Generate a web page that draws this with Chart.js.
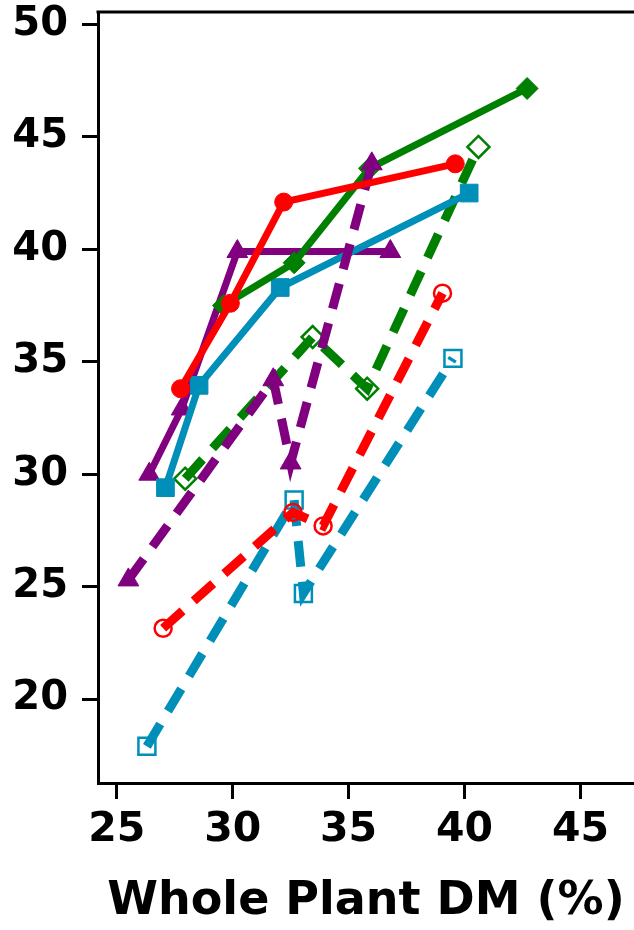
<!doctype html>
<html lang="en">

<head>
  <meta charset="utf-8">
  <title>Whole Plant DM</title>
  <script src="https://cdn.jsdelivr.net/npm/chart.js"></script>
  <style>
    html, body { margin: 0; padding: 0; background: #fff; overflow: hidden; }
    #wrap { width: 634px; height: 930px; }
  </style>
</head>

<body>
  <div id="wrap">
    <canvas id="dmChart" role="img" aria-label="Line chart against whole plant DM"></canvas>
  </div>

  <script>
    // === DATA ===

    const xTicks = [25, 30, 35, 40, 45];
    const yTicks = [20, 25, 30, 35, 40, 45, 50];

    // purple, triangles
    const purpleSolidX = [26.4, 27.8, 30.2, 36.8];
    const purpleSolidY = [30.0, 32.9, 39.9, 39.9];
    const purpleDashX = [25.5, 31.75, 32.5, 36.0];
    const purpleDashY = [25.3, 34.2, 30.5, 43.8];

    // red, circles
    const redSolidX = [27.75, 29.9, 32.2, 39.6];
    const redSolidY = [33.8, 37.6, 42.1, 43.8];
    const redDashX = [27.0, 32.6, 33.9, 39.05];
    const redDashY = [23.15, 28.3, 27.7, 38.05];

    // green, diamonds
    const greenSolidX = [29.6, 32.65, 35.9, 42.7];
    const greenSolidY = [37.5, 39.4, 43.6, 47.15];
    const greenDashX = [27.95, 33.45, 35.8, 40.6];
    const greenDashY = [29.8, 36.1, 33.8, 44.55];

    // blue, squares
    const blueSolidX = [27.1, 28.55, 32.05, 40.2];
    const blueSolidY = [29.4, 33.95, 38.3, 42.5];
    const blueDashX = [26.3, 32.65, 33.05, 39.5];
    const blueDashY = [17.9, 28.85, 24.7, 35.15];

    // === COLOURS ===
    const PURPLE = "#800080";
    const RED = "#ff0000";
    const GREEN = "#008000";
    const BLUE = "#008fb8";

    function pts(xs, ys) {
      return xs.map((x, i) => ({ x: x, y: ys[i] }));
    }

    // solid line, filled markers
    function solid(xs, ys, color, style, r) {
      return {
        data: pts(xs, ys),
        showLine: true,
        borderColor: color,
        backgroundColor: color,
        borderWidth: 7,
        pointStyle: style,
        pointRadius: r,
        pointBorderWidth: 1,
        pointBackgroundColor: color,
        pointBorderColor: color
      };
    }

    // dashed line, open (or filled) markers
    function dashed(xs, ys, color, style, r, filled) {
      return {
        data: pts(xs, ys),
        showLine: true,
        borderColor: color,
        backgroundColor: color,
        borderWidth: 9,
        borderDash: [26, 15],
        pointStyle: style,
        pointRadius: r,
        pointBorderWidth: filled ? 1 : 2.5,
        pointBackgroundColor: filled ? color : "rgba(0,0,0,0)",
        pointBorderColor: color
      };
    }

    // top frame line (no right frame in the picture)
    const topFrame = {
      id: "topFrame",
      afterDraw(chart) {
        const a = chart.chartArea;
        const ctx = chart.ctx;
        ctx.save();
        ctx.strokeStyle = "#000";
        ctx.lineWidth = 3;
        ctx.beginPath();
        ctx.moveTo(a.left - 1.5, a.top);
        ctx.lineTo(a.right, a.top);
        ctx.stroke();
        ctx.restore();
      }
    };

    const FONT = "'DejaVu Sans', sans-serif";

    new Chart(document.getElementById("dmChart"), {
      type: "scatter",
      data: {
        datasets: [
          solid(redSolidX, redSolidY, RED, "circle", 9),
          dashed(purpleDashX, purpleDashY, PURPLE, "triangle", 12, true),
          solid(greenSolidX, greenSolidY, GREEN, "rectRot", 11),
          solid(blueSolidX, blueSolidY, BLUE, "rect", 12.5),
          solid(purpleSolidX, purpleSolidY, PURPLE, "triangle", 12),
          dashed(redDashX, redDashY, RED, "circle", 8.5, false),
          dashed(blueDashX, blueDashY, BLUE, "rect", 12, false),
          dashed(greenDashX, greenDashY, GREEN, "rectRot", 11, false)
        ]
      },
      options: {
        responsive: true,
        maintainAspectRatio: false,
        animation: false,
        layout: { autoPadding: false, padding: { top: 12, right: 0, left: 0, bottom: 0 } },
        plugins: {
          legend: { display: false },
          tooltip: { enabled: false }
        },
        elements: { line: { tension: 0 } },
        scales: {
          x: {
            type: "linear",
            min: 24.19,
            max: 47.31,
            afterBuildTicks: s => { s.ticks = xTicks.map(v => ({ value: v })); },
            afterFit: s => {
              s.height = 147;
              s.paddingLeft = 0;
              s.paddingRight = 0;
            },
            grid: {
              drawOnChartArea: false,
              drawTicks: true,
              tickLength: 16,
              tickWidth: 3,
              tickColor: "#000"
            },
            border: { display: true, color: "#000", width: 3 },
            ticks: {
              color: "#000",
              padding: 7,
              maxRotation: 0,
              font: { family: FONT, size: 41, weight: "bold" }
            },
            title: {
              display: true,
              text: "Whole Plant DM (%)",
              color: "#000",
              padding: { top: 0, bottom: 0 },
              font: { family: FONT, size: 46, weight: "bold" }
            }
          },
          y: {
            type: "linear",
            min: 16.27,
            max: 50.55,
            afterBuildTicks: s => { s.ticks = yTicks.map(v => ({ value: v })); },
            afterFit: s => {
              s.width = 98;
              s.paddingTop = 0;
              s.paddingBottom = 0;
            },
            grid: {
              drawOnChartArea: false,
              drawTicks: true,
              tickLength: 16,
              tickWidth: 3,
              tickColor: "#000"
            },
            border: { display: true, color: "#000", width: 3 },
            ticks: {
              color: "#000",
              padding: 14,
              font: { family: FONT, size: 40, weight: "bold" }
            }
          }
        }
      },
      plugins: [topFrame]
    });
  </script>

</body>

</html>
